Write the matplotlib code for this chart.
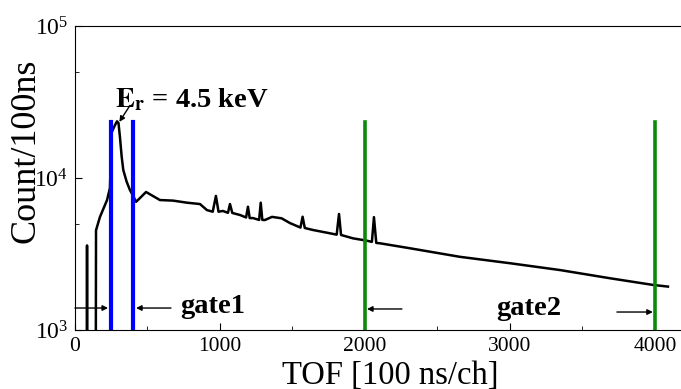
import numpy as np
import matplotlib
matplotlib.use('Agg')
import matplotlib.pyplot as plt
from matplotlib.ticker import FixedLocator, LogLocator, NullFormatter

# TOF spectrum (channel, counts per 100 ns)
tof = [0, 80, 83, 86, 142, 145, 172, 221, 241, 253, 276, 290, 300, 310, 322, 333, 356, 379, 398, 421,
       448, 490, 586, 676, 772, 862, 910, 950, 972, 990, 1020, 1055, 1069, 1085, 1138, 1180, 1193,
       1205, 1228, 1270, 1281, 1292, 1310, 1359, 1425, 1483, 1555, 1570, 1585, 1641, 1736, 1805,
       1821, 1835, 1917, 2012, 2048, 2062, 2078, 2103, 2310, 2655, 3000, 3345, 3690, 3986, 4090]
counts = [100, 100, 3600, 100, 100, 4530, 5540, 7160, 8600, 20000, 22300, 23600, 23000, 18600, 13800,
          11300, 9470, 8330, 7720, 6970,
          7380, 8090, 7160, 7100, 6880, 6740, 6150, 6000, 7620, 6000, 6070, 5900, 6740, 5890, 5710,
          5500, 6470, 5450, 5450, 5300, 6880, 5300, 5290, 5550, 5430, 5050, 4720, 5560, 4690, 4550,
          4370, 4240, 5800, 4220, 4010, 3870, 3800, 5530, 3740, 3720, 3450, 3030, 2750, 2480, 2190,
          1980, 1930]

gate1 = [250, 400]
gate2 = [2000, 4000]
gate_top = 23400

plt.rcParams['font.family'] = ['Liberation Serif', 'DejaVu Serif']
plt.rcParams['mathtext.fontset'] = 'stix'

fig = plt.figure(figsize=(6.81, 3.89), dpi=100)
ax = fig.add_axes([75/681, 59/389, 606/681, 304/389])

ax.plot(tof, counts, color='black', lw=1.8)
for g in gate1:
    ax.plot([g, g], [1e3, gate_top], color='#0000ff', lw=3)
for g in gate2:
    ax.plot([g, g], [1e3, gate_top], color='#0b8a0b', lw=2.6)

ax.set_yscale('log')
ax.set_xlim(0, 4180)
ax.set_ylim(1e3, 1e5)

ax.xaxis.set_major_locator(FixedLocator([0, 1000, 2000, 3000, 4000]))
ax.xaxis.set_minor_locator(FixedLocator([500, 1500, 2500, 3500]))
ax.yaxis.set_major_locator(LogLocator(base=10, numticks=5))
ax.yaxis.set_minor_locator(FixedLocator([5e3, 5e4]))
ax.yaxis.set_minor_formatter(NullFormatter())
ax.tick_params(which='both', direction='in', top=False, right=False)
ax.tick_params(axis='x', labelsize=15.5, pad=5)
ax.tick_params(axis='y', labelsize=17, pad=5)
ax.tick_params(which='major', length=5)
ax.tick_params(which='minor', length=3)
ax.spines['right'].set_visible(False)

ax.set_xlabel('TOF [100 ns/ch]', fontsize=23.5)
ax.xaxis.set_label_coords(0.52, -0.10)
ax.set_ylabel('Count/100ns', fontsize=26)
ax.yaxis.set_label_coords(-0.053, 0.59)

arrow = dict(arrowstyle='-|>', lw=1, color='black', mutation_scale=8, shrinkA=0, shrinkB=0)
ax.annotate('', xy=(228, 1395), xytext=(0, 1395), arrowprops=arrow)
ax.annotate('', xy=(421, 1395), xytext=(662, 1395), arrowprops=arrow)
ax.text(724, 1294, 'gate1', fontsize=20.5, fontweight='bold', va='baseline')
ax.annotate('', xy=(2014, 1375), xytext=(2255, 1375), arrowprops=arrow)
ax.annotate('', xy=(3986, 1313), xytext=(3738, 1313), arrowprops=arrow)
ax.text(2903, 1255, 'gate2', fontsize=20.5, fontweight='bold', va='baseline')

ax.text(276, 29300, r'$\mathbf{E_r}$ = 4.5 keV', fontsize=20.5, fontweight='bold', va='baseline')
ax.annotate('', xy=(306, 23400), xytext=(379, 30000), arrowprops=arrow)

fig.savefig('out.png', dpi=100)
